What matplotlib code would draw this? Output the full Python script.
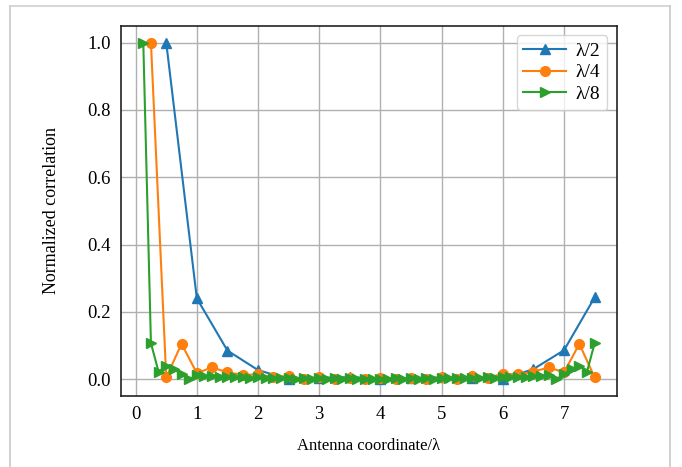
import numpy as np
import matplotlib
matplotlib.use("Agg")
import matplotlib.pyplot as plt
from matplotlib.lines import Line2D

plt.rcParams["font.family"] = ["Liberation Serif", "DejaVu Serif"]

# λ/2 spacing
x_half = [0.5, 1.0, 1.5, 2.0, 2.5, 3.0, 3.5, 4.0, 4.5, 5.0, 5.5, 6.0, 6.5, 7.0, 7.5]
y_half = [1.0, 0.24, 0.085, 0.027, 0.0, 0.004, 0.006, 0.002, 0.003, 0.005, 0.004,
          0.0, 0.03, 0.086, 0.243]

# λ/4 spacing
x_quarter = [0.25, 0.5, 0.75, 1.0, 1.25, 1.5, 1.75, 2.0, 2.25, 2.5,
             2.75, 3.0, 3.25, 3.5, 3.75, 4.0, 4.25, 4.5, 4.75, 5.0,
             5.25, 5.5, 5.75, 6.0, 6.25, 6.5, 6.75, 7.0, 7.25, 7.5]
y_quarter = [1.0, 0.005, 0.105, 0.018, 0.035, 0.02, 0.013, 0.014, 0.005, 0.01,
             0.0, 0.007, 0.002, 0.004, 0.001, 0.003, 0.001, 0.004, 0.002, 0.006,
             0.001, 0.008, 0.004, 0.016, 0.014, 0.022, 0.035, 0.02, 0.105, 0.005]

# λ/8 spacing
x_eighth = [0.125, 0.25, 0.375, 0.5, 0.625, 0.75, 0.875, 1.0,
            1.125, 1.25, 1.375, 1.5, 1.625, 1.75, 1.875, 2.0,
            2.125, 2.25, 2.375, 2.5, 2.625, 2.75, 2.875, 3.0,
            3.125, 3.25, 3.375, 3.5, 3.625, 3.75, 3.875, 4.0,
            4.125, 4.25, 4.375, 4.5, 4.625, 4.75, 4.875, 5.0,
            5.125, 5.25, 5.375, 5.5, 5.625, 5.75, 5.875, 6.0,
            6.125, 6.25, 6.375, 6.5, 6.625, 6.75, 6.875, 7.0,
            7.125, 7.25, 7.375, 7.5]
y_eighth = [1.0, 0.107, 0.022, 0.04, 0.03, 0.015, 0.0, 0.012,
            0.01, 0.008, 0.006, 0.007, 0.005, 0.006, 0.004, 0.005,
            0.003, 0.004, 0.003, 0.004, 0.002, 0.003, 0.002, 0.003,
            0.002, 0.003, 0.002, 0.003, 0.002, 0.002, 0.002, 0.002,
            0.002, 0.003, 0.002, 0.003, 0.002, 0.003, 0.002, 0.003,
            0.003, 0.004, 0.003, 0.004, 0.004, 0.005, 0.004, 0.006,
            0.005, 0.007, 0.006, 0.008, 0.01, 0.012, 0.0, 0.015,
            0.03, 0.04, 0.022, 0.107]

fig = plt.figure(figsize=(6.82, 4.67), dpi=100)
ax = fig.add_axes([0.177, 0.152, 0.728, 0.793])

ax.plot(x_half, y_half, marker="^", color="#1f77b4", lw=1.5, ms=7, label="λ/2")
ax.plot(x_quarter, y_quarter, marker="o", color="#ff7f0e", lw=1.5, ms=7, label="λ/4")
ax.plot(x_eighth, y_eighth, marker=">", color="#2ca02c", lw=1.5, ms=7, label="λ/8")

ax.set_xticks(range(0, 8))
ax.set_yticks([0.0, 0.2, 0.4, 0.6, 0.8, 1.0])
ax.set_yticklabels(["0.0", "0.2", "0.4", "0.6", "0.8", "1.0"])
ax.tick_params(length=0, pad=7, labelsize=13.5)
ax.grid(True, color="#b0b0b0", lw=1.0)
for s in ax.spines.values():
    s.set_color("#222222")
    s.set_linewidth(1.2)

ax.set_xlabel("Antenna coordinate/λ", fontsize=12, labelpad=11)
ax.set_ylabel("Normalized correlation", fontsize=13, labelpad=20)

leg = ax.legend(loc="upper right", fontsize=14, framealpha=0.8, edgecolor="#cccccc",
                handlelength=2.2, borderpad=0.35, labelspacing=0.2, handletextpad=0.5)

# outer light frame
fig.add_artist(Line2D([10 / 682, 10 / 682], [0, 1 - 6 / 467], color="#c8c8c8", lw=1.2))
fig.add_artist(Line2D([10 / 682, 670 / 682], [1 - 6 / 467, 1 - 6 / 467], color="#d0d0d0", lw=1.2))
fig.add_artist(Line2D([670 / 682, 670 / 682], [0, 1 - 6 / 467], color="#c8c8c8", lw=1.2))

fig.savefig("out.png", dpi=100)
